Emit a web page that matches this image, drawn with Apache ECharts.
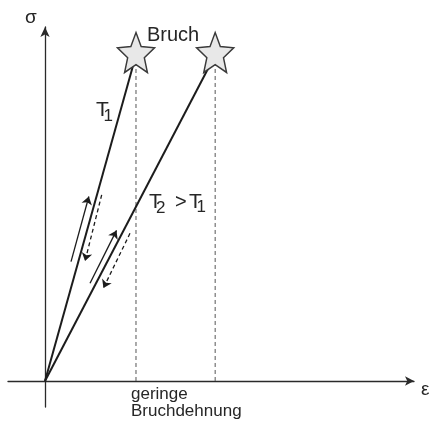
<!DOCTYPE html>
<html>
<head>
<meta charset="utf-8">
<script src="https://cdn.jsdelivr.net/npm/echarts@6/dist/echarts.min.js"></script>
<style>
html,body{margin:0;padding:0;background:#fff;}
#chart{width:442px;height:433px;}
</style>
</head>
<body>
<div id="chart"></div>
<script>
// ---- data (schematic, arbitrary units) ----
const curveNames   = ['T1', 'T2'];
const breakStrain  = [1.0, 1.87];   // ε at fracture
const breakStress  = [1.0, 1.0];    // σ at fracture
// loading (solid) / unloading (dashed) arrows: [start, end] in (ε, σ)
const loadArrows   = [[[0.286, 0.366], [0.482, 0.566]], [[0.495, 0.300], [0.786, 0.462]]];
const unloadArrows = [[[0.623, 0.571], [0.440, 0.368]], [[0.934, 0.453], [0.642, 0.285]]];
const axisRangeX = [-0.4066, 4.055];
const axisRangeY = [-0.0798, 1.0859];

const FONT = "'Liberation Sans', Arial, Helvetica, sans-serif";
const TXT = '#262626';
const starPath = 'path://M100 0 L126.45 63.59 L195.11 69.10 L142.80 113.91 L158.78 180.90 L100 145 L41.22 180.90 L57.20 113.91 L4.89 69.10 L73.55 63.59 Z';

const chart = echarts.init(document.getElementById('chart'), null, {renderer: 'canvas'});

const series = [];
curveNames.forEach((n, i) => {
  series.push({
    type: 'line', name: n, data: [[0, 0], [breakStrain[i], breakStress[i]]],
    symbol: 'none', lineStyle: {color: '#1c1c1c', width: 2}, z: 3
  });
  series.push({
    type: 'line', name: n + ' dash', data: [[breakStrain[i], 0], [breakStrain[i], breakStress[i]]],
    symbol: 'none', lineStyle: {color: '#555', width: 1, type: [4, 3]}, z: 2
  });
});
series.push({
  type: 'lines', coordinateSystem: 'cartesian2d',
  data: loadArrows.map(a => ({coords: a})),
  symbol: ['none', 'arrow'], symbolSize: [5, 8],
  lineStyle: {color: '#1c1c1c', width: 1.3, opacity: 1}, z: 4
});
series.push({
  type: 'lines', coordinateSystem: 'cartesian2d',
  data: unloadArrows.map(a => ({coords: a})),
  symbol: ['none', 'arrow'], symbolSize: [5, 8],
  lineStyle: {color: '#1c1c1c', width: 1.3, type: [4, 3], opacity: 1}, z: 4
});
series.push({
  type: 'scatter',
  data: breakStrain.map((e, i) => [e, breakStress[i]]),
  symbol: starPath, symbolSize: [37, 40], symbolOffset: [0, -2.5],
  itemStyle: {color: '#e8e8e8', borderColor: '#3a3a3a', borderWidth: 1.5, opacity: 1},
  z: 10
});

function txt(text, x, y, size, extra) {
  return Object.assign({
    type: 'text', x: x, y: y, z: 20,
    style: {text: text, fill: TXT, font: size + 'px ' + FONT, textAlign: 'left', textVerticalAlign: 'middle', verticalAlign: 'middle'}
  }, extra || {});
}

chart.setOption({
  animation: false,
  backgroundColor: '#fff',
  grid: {left: 8, right: 28, top: 27, bottom: 26, containLabel: false},
  xAxis: {
    type: 'value', min: axisRangeX[0], max: axisRangeX[1],
    axisLine: {show: true, onZero: true, symbol: ['none', 'arrow'], symbolSize: [7, 9], lineStyle: {color: '#2a2a2a', width: 1.3}},
    axisTick: {show: false}, axisLabel: {show: false}, splitLine: {show: false}
  },
  yAxis: {
    type: 'value', min: axisRangeY[0], max: axisRangeY[1],
    axisLine: {show: true, onZero: true, symbol: ['none', 'arrow'], symbolSize: [7, 10], lineStyle: {color: '#2a2a2a', width: 1.3}},
    axisTick: {show: false}, axisLabel: {show: false}, splitLine: {show: false}
  },
  series: series,
  graphic: [
    txt('σ', 25, 18, 19),
    txt('ε', 421, 389.5, 19),
    txt('Bruch', 147, 35, 20),
    txt('T', 96, 110, 21),
    txt('1', 103.5, 116, 17),
    txt('T', 149, 202, 21),
    txt('2', 156, 208.5, 17),
    txt('>', 175, 202, 20),
    txt('T', 189, 202, 21),
    txt('1', 196.5, 207.5, 17),
    txt('geringe', 131, 394, 17),
    txt('Bruchdehnung', 131, 411, 17)
  ]
});
</script>
</body>
</html>
